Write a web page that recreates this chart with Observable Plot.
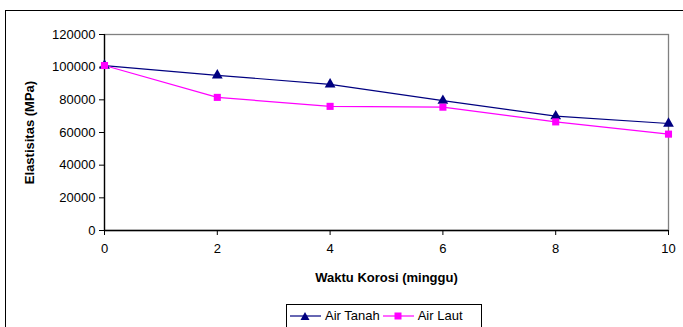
<!DOCTYPE html>
<html><head><meta charset="utf-8">
<script src="https://cdn.jsdelivr.net/npm/d3@7"></script>
<script src="https://cdn.jsdelivr.net/npm/@observablehq/plot@0.6"></script>
<style>
body{margin:0;background:#fff;}
#wrap{position:relative;width:683px;height:327px;overflow:hidden;font-family:"Liberation Sans",Arial,sans-serif;color:#000;}
#frame{position:absolute;left:5px;top:10px;width:700px;height:340px;border:1.5px solid #000;}
#chart{position:absolute;left:0;top:0;}
#legend{position:absolute;left:286px;top:304px;width:196px;height:30px;border:1px solid #000;background:#fff;font-size:13px;display:flex;align-items:flex-start;padding-top:3px;box-sizing:border-box;}
#legend .item{display:flex;align-items:center;margin-left:3px;}
#legend svg{margin-right:4px;}
</style></head>
<body>
<div id="wrap"><div id="frame"></div><div id="chart"></div><div id="legend"></div></div>
<script>
const weeks = [0, 2, 4, 6, 8, 10];
const seriesNames = ["Air Tanah", "Air Laut"];
const airTanah = [101000, 95000, 89500, 79500, 70000, 65500];
const airLaut = [101000, 81500, 76000, 75500, 66500, 59000];
const yTicks = [0, 20000, 40000, 60000, 80000, 100000, 120000];
const xTicks = [0, 2, 4, 6, 8, 10];
const colors = ["#000080", "#FF00FF"];
const symbols = ["triangle", "square"];

const data = [];
weeks.forEach((w, i) => {
  data.push({week: w, value: airTanah[i], series: seriesNames[0]});
  data.push({week: w, value: airLaut[i], series: seriesNames[1]});
});

const chart = Plot.plot({
  width: 683, height: 300,
  marginLeft: 104, marginTop: 34, marginRight: 15, marginBottom: 70,
  style: {fontFamily: '"Liberation Sans", Arial, sans-serif', color: "#000", background: "transparent"},
  x: {domain: [0, 10]},
  y: {domain: [0, 120000]},
  color: {domain: seriesNames, range: colors},
  symbol: {domain: seriesNames, range: symbols},
  marks: [
    Plot.frame({stroke: "#808080", strokeWidth: 1.3}),
    Plot.axisY({ticks: yTicks, tickFormat: d3.format("d"), tickSize: 5, tickPadding: 4, fontSize: 13,
      label: "Elastisitas (MPa)", labelAnchor: "center", labelOffset: 80, labelArrow: "none"}),
    Plot.axisX({ticks: xTicks, tickSize: 5, tickPadding: 8, fontSize: 13,
      label: "Waktu Korosi (minggu)", labelAnchor: "center", labelOffset: 51, labelArrow: "none"}),
    Plot.ruleY([0], {stroke: "#000", strokeWidth: 1.3}),
    Plot.ruleX([0], {stroke: "#000", strokeWidth: 1.3}),
    Plot.line(data, {x: "week", y: "value", stroke: "series", strokeWidth: 1.2}),
    Plot.dot(data, {x: "week", y: "value", fill: "series", symbol: "series", r: 4, stroke: "none"})
  ]
});
chart.querySelectorAll('[aria-label="y-axis label"] text, [aria-label="x-axis label"] text').forEach(t => {
  t.setAttribute("font-weight", "bold");
  t.setAttribute("font-size", "13");
  t.textContent = t.textContent.replace(/\s*[↑→←↓]\s*/g, "");
});
document.getElementById("chart").appendChild(chart);

const legend = document.getElementById("legend");
seriesNames.forEach((name, i) => {
  const item = document.createElement("div");
  item.className = "item";
  const sym = symbols[i] === "triangle"
    ? `<path d="M15,-4 L19.5,4 L10.5,4 Z" fill="${colors[i]}"/>`
    : `<rect x="11.5" y="-3.5" width="7" height="7" fill="${colors[i]}"/>`;
  item.innerHTML = `<svg width="31" height="14" viewBox="0 -7 31 14"><line x1="0" x2="31" y1="0" y2="0" stroke="${colors[i]}" stroke-width="1.2"/>${sym}</svg><span>${name}</span>`;
  legend.appendChild(item);
});
</script>
</body></html>
